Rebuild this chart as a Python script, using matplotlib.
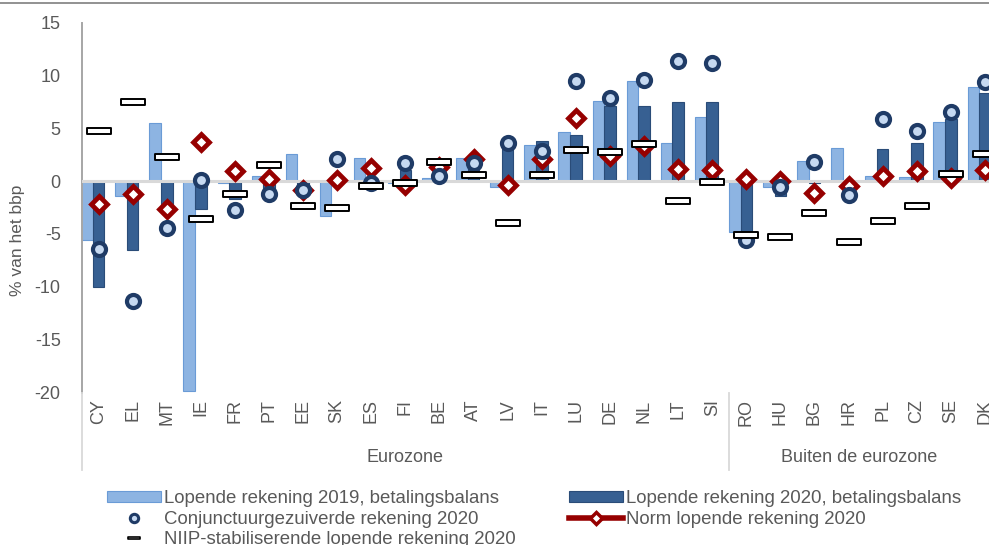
import matplotlib
matplotlib.use("Agg")
import matplotlib.pyplot as plt
from matplotlib.lines import Line2D
from matplotlib.patches import Patch
from matplotlib.path import Path
from matplotlib.transforms import blended_transform_factory
import numpy as np

countries = ["CY", "EL", "MT", "IE", "FR", "PT", "EE", "SK", "ES", "FI", "BE", "AT", "LV", "IT",
             "LU", "DE", "NL", "LT", "SI", "RO", "HU", "BG", "HR", "PL", "CZ", "SE", "DK"]
n_euro = 19

ca_2019 = [-5.6, -1.4, 5.5, -19.9, -0.2, 0.5, 2.6, -3.3, 2.2, -0.2, 0.3, 2.2, -0.6, 3.4,
           4.6, 7.6, 9.5, 3.6, 6.1, -4.8, -0.6, 1.9, 3.1, 0.5, 0.4, 5.6, 8.9]
ca_2020 = [-10.0, -6.5, -2.7, -2.6, -1.7, -1.0, -0.5, 0.0, -0.4, 1.0, 0.4, 1.2, 3.6, 3.8,
           4.4, 7.1, 7.1, 7.45, 7.5, -5.0, -1.4, -0.15, 0.0, 3.0, 3.6, 5.9, 8.3]
cyc_adj = [-6.4, -11.3, -4.4, 0.1, -2.7, -1.2, -0.8, 2.1, -0.2, 1.7, 0.5, 1.7, 3.6, 2.8,
           9.5, 7.9, 9.6, 11.4, 11.2, -5.6, -0.6, 1.8, -1.35, 5.9, 4.7, 6.5, 9.4]
norm = [-2.2, -1.2, -2.6, 3.7, 0.95, 0.2, -0.8, 0.1, 1.2, -0.35, 1.3, 2.1, -0.35, 2.1,
        6.0, 2.4, 3.3, 1.1, 1.0, 0.2, 0.0, -1.1, -0.5, 0.45, 0.95, 0.3, 1.0]
niip = [4.7, 7.5, 2.3, -3.6, -1.2, 1.5, -2.4, -2.55, -0.5, -0.2, 1.8, 0.6, -4.0, 0.6,
        2.9, 2.75, 3.5, -1.9, -0.1, -5.1, -5.3, -3.0, -5.8, -3.8, -2.4, 0.7, 2.6]

groups = ["Eurozone", "Buiten de eurozone"]

light = "#8DB4E2"
dark = "#376092"
navy = "#1F3B66"
red = "#960000"
grey_txt = "#595959"

plt.rcParams["font.family"] = ["Liberation Sans", "DejaVu Sans"]
plt.rcParams["axes.unicode_minus"] = False

fig = plt.figure(figsize=(9.89, 5.45), dpi=100)
W, H = 989, 545
ax = fig.add_axes([81.5 / W, 1 - 392.5 / H, (1002 - 81.5) / W, (392.5 - 22.5) / H])

x = np.arange(len(countries))
bw = 0.34
ax.bar(x - bw, ca_2019, bw, align="center", color=light, edgecolor="#6A9BD6", linewidth=0.8, zorder=2)
ax.bar(x, ca_2020, bw, align="center", color=dark, edgecolor="#2A4C78", linewidth=0.8, zorder=2)
ax.axhline(0, color="#D9D9D9", linewidth=2.2, zorder=3)

ax.plot(x, norm, linestyle="none", marker="D", markersize=8.5, markeredgewidth=3.4,
        markerfacecolor="white", markeredgecolor=red, zorder=4)
ax.plot(x, cyc_adj, linestyle="none", marker="o", markersize=9.4, markeredgewidth=3.0,
        markerfacecolor="#C6D9F1", markeredgecolor=navy, zorder=5)
dash = Path([(-1, -0.22), (1, -0.22), (1, 0.22), (-1, 0.22), (-1, -0.22)],
            [Path.MOVETO, Path.LINETO, Path.LINETO, Path.LINETO, Path.CLOSEPOLY])
ax.plot(x, niip, linestyle="none", marker=dash, markersize=17.5, markeredgewidth=1.4,
        markerfacecolor="white", markeredgecolor="black", zorder=6)

ax.set_xlim(-0.5, len(countries) - 0.5)
ax.set_ylim(-20, 15)
ax.set_yticks(range(-20, 16, 5))
ax.set_xticks(x)
ax.set_xticklabels(countries, rotation=90, fontsize=13, color=grey_txt)
ax.tick_params(axis="x", length=0, pad=5)
ax.tick_params(axis="y", length=0, pad=15, labelsize=13, labelcolor=grey_txt)
for s in ["top", "right", "bottom"]:
    ax.spines[s].set_visible(False)
ax.spines["left"].set_color("#A6A6A6")
ax.spines["left"].set_linewidth(1.4)

# group separators and labels under the category axis
tr = blended_transform_factory(ax.transData, fig.transFigure)
y_bot = 1 - 470 / H
y_top = 1 - 393 / H
for sx in [-0.5, n_euro - 0.5, len(countries) - 0.5]:
    fig.add_artist(Line2D([sx, sx], [y_bot, y_top], transform=tr, color="#D9D9D9", linewidth=1.3))
fig.text((n_euro - 1) / 2, 1 - 457 / H, groups[0], transform=tr, ha="center", va="center",
         fontsize=13, color=grey_txt)
fig.text((n_euro + len(countries) - 1) / 2 - 0.2, 1 - 457 / H, groups[1], transform=tr,
         ha="center", va="center", fontsize=13, color=grey_txt)

fig.text(18 / W, 1 - 240 / H, "% van het bbp", rotation=90, ha="center", va="center",
         fontsize=12.5, color=grey_txt)

# top border
fig.add_artist(Line2D([0, 1], [1 - 3 / H, 1 - 3 / H], transform=fig.transFigure,
                      color="#7F7F7F", linewidth=1.2))

handles = [
    Patch(facecolor=light, edgecolor="#6A9BD6", linewidth=0.8),
    Line2D([], [], linestyle="none", marker="o", markersize=6, markeredgewidth=2.2,
           markerfacecolor="#C6D9F1", markeredgecolor=navy),
    Line2D([], [], linestyle="none", marker=dash, markersize=8, markeredgewidth=1.2,
           markerfacecolor="white", markeredgecolor="black"),
    Patch(facecolor=dark, edgecolor="#2A4C78", linewidth=0.8),
    Line2D([], [], color=red, linewidth=4, marker="D", markersize=6, markeredgewidth=2.5,
           markerfacecolor="white", markeredgecolor=red),
]
labels = [
    "Lopende rekening 2019, betalingsbalans",
    "Conjunctuurgezuiverde rekening 2020",
    "NIIP-stabiliserende lopende rekening 2020",
    "Lopende rekening 2020, betalingsbalans",
    "Norm lopende rekening 2020",
]
leg = fig.legend(handles, labels, ncol=2, loc="upper left", bbox_to_anchor=(107 / W, 1 - 490 / H),
                 frameon=False, fontsize=13.4, borderpad=0, borderaxespad=0, labelspacing=0.2,
                 handlelength=2.9, handleheight=0.5, handletextpad=0.15, columnspacing=2.9,
                 numpoints=1)
for t in leg.get_texts():
    t.set_color(grey_txt)

fig.savefig("out.png", dpi=100)
